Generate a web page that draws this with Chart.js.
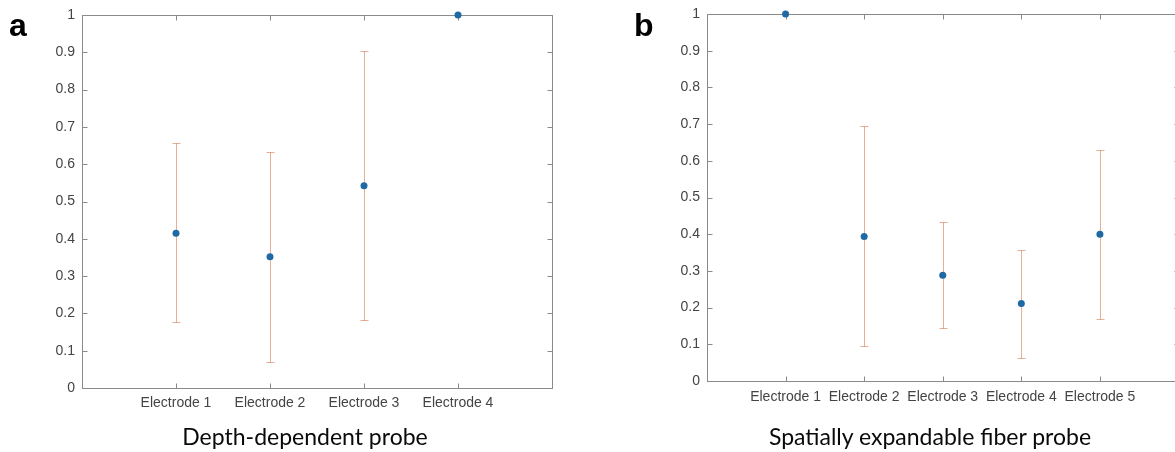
<!DOCTYPE html>
<html>
<head>
<meta charset="utf-8">
<title>Electrode charts</title>
<script src="https://cdn.jsdelivr.net/npm/chart.js@4.4.0/dist/chart.umd.min.js"></script>
<style>
    html, body { margin: 0; padding: 0; background: #fff; width: 1175px; height: 452px; overflow: hidden; position: relative; }
    .panel { position: absolute; top: 0; height: 452px; }
    #panelA { left: 0; width: 600px; }
    #panelB { left: 600px; width: 620px; }
    .letter { position: absolute; top: 9px; font-family: "Liberation Sans", Arial, sans-serif; font-weight: bold; font-size: 32px; line-height: 1; color: #000; }
    .caption { position: absolute; top: 425px; font-family: Lato, sans-serif; font-size: 23px; line-height: 1; color: #0a0a0a; white-space: nowrap; transform: translateX(-50%); }
</style>
</head>
<body>
<div class="panel" id="panelA"><canvas id="chartA"></canvas></div>
<div class="panel" id="panelB"><canvas id="chartB"></canvas></div>
<div class="letter" style="left:9px">a</div>
<div class="letter" style="left:634px">b</div>
<div class="caption" style="left:305px">Depth-dependent probe</div>
<div class="caption" style="left:930px">Spatially expandable fiber probe</div>

<script>
//==========Data===========
const yTicks = [0, 0.1, 0.2, 0.3, 0.4, 0.5, 0.6, 0.7, 0.8, 0.9, 1];

const catsA = ['Electrode 1', 'Electrode 2', 'Electrode 3', 'Electrode 4'];
const meanA = [0.415, 0.352, 0.542, 1.0];
const lowA = [0.176, 0.070, 0.181, null];
const highA = [0.656, 0.633, 0.903, null];

const catsB = ['Electrode 1', 'Electrode 2', 'Electrode 3', 'Electrode 4', 'Electrode 5'];
const meanB = [1.0, 0.394, 0.288, 0.211, 0.400];
const lowB = [null, 0.095, 0.144, 0.064, 0.168];
const highB = [null, 0.695, 0.432, 0.357, 0.630];

const axisColor = '#8a8a8a';
const tickTextColor = '#444444';
const markerColor = '#1f6aa5';
const errColor = 'rgba(205, 95, 45, 0.5)';

//==========Plugins===========
function px(v) {
    return Math.round(v) + 0.5;
}

// box round the plot with inward ticks on all four sides
const boxPlugin = {
    id: 'matlabBox',
    beforeDatasetsDraw: function (chart) {
        let ctx = chart.ctx;
        let a = chart.chartArea;
        let xs = chart.scales.x;
        let ys = chart.scales.y;
        let l = px(a.left), r = px(a.right), t = px(a.top), b = px(a.bottom);
        ctx.save();
        ctx.strokeStyle = axisColor;
        ctx.lineWidth = 1;
        ctx.strokeRect(l, t, r - l, b - t);
        ctx.beginPath();
        xs.ticks.forEach(function (tk) {
            let x = px(xs.getPixelForValue(tk.value));
            ctx.moveTo(x, b); ctx.lineTo(x, b - 5);
            ctx.moveTo(x, t); ctx.lineTo(x, t + 5);
        });
        ys.ticks.forEach(function (tk) {
            let y = px(ys.getPixelForValue(tk.value));
            ctx.moveTo(l, y); ctx.lineTo(l + 5, y);
            ctx.moveTo(r, y); ctx.lineTo(r - 5, y);
        });
        ctx.stroke();
        ctx.restore();
    }
};

// error bars from the low / high arrays
const errorBarPlugin = {
    id: 'errorBars',
    beforeDatasetsDraw: function (chart, args, opts) {
        let ctx = chart.ctx;
        let xs = chart.scales.x;
        let ys = chart.scales.y;
        ctx.save();
        ctx.strokeStyle = errColor;
        ctx.lineWidth = 1;
        ctx.beginPath();
        opts.low.forEach(function (lo, i) {
            let hi = opts.high[i];
            if (lo === null || hi === null) return;
            let x = px(xs.getPixelForValue(i + 1));
            let y1 = px(ys.getPixelForValue(lo));
            let y2 = px(ys.getPixelForValue(hi));
            ctx.moveTo(x, y1); ctx.lineTo(x, y2);
            ctx.moveTo(x - 4, y1); ctx.lineTo(x + 4, y1);
            ctx.moveTo(x - 4, y2); ctx.lineTo(x + 4, y2);
        });
        ctx.stroke();
        ctx.restore();
    }
};

//==========Chart===========
function MakeChart(canvasId, cats, mean, low, high, box) {
    let tickFont = { family: '"Liberation Sans", Arial, sans-serif', size: 14, lineHeight: 1 };
    return new Chart(document.getElementById(canvasId), {
        type: 'scatter',
        data: {
            datasets: [{
                data: mean.map(function (v, i) { return { x: i + 1, y: v }; }),
                backgroundColor: markerColor,
                borderWidth: 0,
                pointRadius: 3.5,
                pointHoverRadius: 3.5,
                clip: false
            }]
        },
        plugins: [boxPlugin, errorBarPlugin],
        options: {
            responsive: true,
            maintainAspectRatio: false,
            animation: false,
            layout: { padding: { left: 0, top: box.top, right: box.right, bottom: 0 } },
            plugins: {
                legend: { display: false },
                tooltip: { enabled: false },
                errorBars: { low: low, high: high }
            },
            scales: {
                x: {
                    type: 'linear',
                    min: 0,
                    max: cats.length + 1,
                    afterBuildTicks: function (scale) {
                        scale.ticks = cats.map(function (c, i) { return { value: i + 1 }; });
                    },
                    afterFit: function (scale) { scale.height = box.xHeight; },
                    ticks: {
                        autoSkip: false,
                        maxRotation: 0,
                        padding: box.xPad,
                        color: tickTextColor,
                        font: tickFont,
                        callback: function (value) { return cats[value - 1]; }
                    },
                    grid: { display: false, drawTicks: false },
                    border: { display: false }
                },
                y: {
                    min: 0,
                    max: 1,
                    afterBuildTicks: function (scale) {
                        scale.ticks = yTicks.map(function (v) { return { value: v }; });
                    },
                    afterFit: function (scale) { scale.width = box.yWidth; },
                    ticks: {
                        padding: 7,
                        color: tickTextColor,
                        font: tickFont,
                        callback: function (value) { return String(value); }
                    },
                    grid: { display: false, drawTicks: false },
                    border: { display: false }
                }
            }
        }
    });
}

MakeChart('chartA', catsA, meanA, lowA, highA, { top: 15, right: 48, xHeight: 64, yWidth: 82, xPad: 8 });
MakeChart('chartB', catsB, meanB, lowB, highB, { top: 8, right: 41.5, xHeight: 71, yWidth: 107, xPad: 9 });
</script>
</body>
</html>
